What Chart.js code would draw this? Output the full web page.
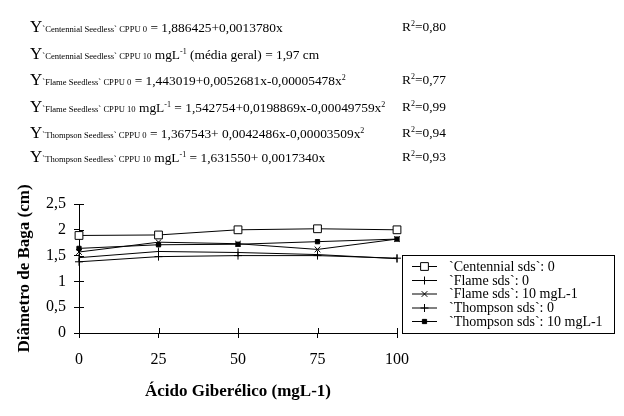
<!DOCTYPE html>
<html>
<head>
<meta charset="utf-8">
<script src="https://cdn.jsdelivr.net/npm/chart.js@4/dist/chart.umd.min.js"></script>
<style>
  body { margin: 0; background: #fff; }
  #wrap { position: relative; width: 624px; height: 416px; font-family: "Liberation Serif", "Times New Roman", serif; color: #000; }
  #chart { position: absolute; left: 0; top: 0; }
  .eq { position: absolute; left: 30px; font-size: 13.4px; line-height: 16px; white-space: nowrap; }
  .eq .Y { font-size: 17px; }
  .eq .s { font-size: 8.6px; }
  .eq sup, .r2 sup { font-size: 8px; vertical-align: 5px; line-height: 0; }
  .r2 { position: absolute; left: 402px; font-size: 13.4px; line-height: 16px; white-space: nowrap; }
</style>
</head>
<body>
<div id="wrap">
  <canvas id="chart" width="624" height="416"></canvas>

  <div class="eq" style="top:19px"><span class="Y">Y</span><span class="s">`Centennial Seedless` CPPU 0</span> = 1,886425+0,0013780x</div>
  <div class="r2" style="top:19px">R<sup>2</sup>=0,80</div>

  <div class="eq" style="top:46px"><span class="Y">Y</span><span class="s">`Centennial Seedless` CPPU 10</span> mgL<sup>-1</sup> (média geral) = 1,97 cm</div>

  <div class="eq" style="top:72px"><span class="Y">Y</span><span class="s">`Flame Seedless` CPPU 0</span> = 1,443019+0,0052681x-0,00005478x<sup>2</sup></div>
  <div class="r2" style="top:72px">R<sup>2</sup>=0,77</div>

  <div class="eq" style="top:99px"><span class="Y">Y</span><span class="s">`Flame Seedless` CPPU 10</span> mgL<sup>-1</sup> = 1,542754+0,0198869x-0,00049759x<sup>2</sup></div>
  <div class="r2" style="top:99px">R<sup>2</sup>=0,99</div>

  <div class="eq" style="top:125px"><span class="Y">Y</span><span class="s">`Thompson Seedless` CPPU 0</span> = 1,367543+ 0,0042486x-0,00003509x<sup>2</sup></div>
  <div class="r2" style="top:125px">R<sup>2</sup>=0,94</div>

  <div class="eq" style="top:149px"><span class="Y">Y</span><span class="s">`Thompson Seedless` CPPU 10</span> mgL<sup>-1</sup> = 1,631550+ 0,0017340x</div>
  <div class="r2" style="top:149px">R<sup>2</sup>=0,93</div>
</div>

<script>
  const doses = [0, 25, 50, 75, 100];
  const centennial0 = [1.89, 1.90, 2.00, 2.02, 2.00];
  const flame0 = [1.46, 1.58, 1.56, 1.52, 1.44];
  const flame10 = [1.57, 1.76, 1.73, 1.62, 1.82];
  const thompson0 = [1.38, 1.48, 1.50, 1.50, 1.45];
  const thompson10 = [1.64, 1.71, 1.72, 1.77, 1.82];

  const seriesLabels = [
    "`Centennial sds`: 0",
    "`Flame sds`: 0",
    "`Flame sds`: 10 mgL-1",
    "`Thompson sds`: 0",
    "`Thompson sds`: 10 mgL-1",
  ];
  const xTitle = "Ácido Giberélico (mgL-1)";
  const yTitle = "Diâmetro de Baga (cm)";

  const FONT = "'Liberation Serif', 'Times New Roman', serif";

  function pts(values) {
    return doses.map((d, i) => ({ x: d, y: values[i] }));
  }

  function series(label, values, style) {
    return Object.assign(
      {
        label,
        data: pts(values),
        borderColor: "#000",
        borderWidth: 1,
        pointBorderColor: "#000",
        pointBorderWidth: 1,
        tension: 0,
        clip: false,
      },
      style,
    );
  }

  // ticks in the reference cross the axis line
  const crossTicks = {
    id: "crossTicks",
    beforeDatasetsDraw(chart) {
      const { ctx, chartArea, scales } = chart;
      ctx.save();
      ctx.strokeStyle = "#000";
      ctx.lineWidth = 1;
      ctx.beginPath();
      scales.y.ticks.forEach((t) => {
        const py = Math.round(scales.y.getPixelForValue(t.value)) + 0.5;
        ctx.moveTo(chartArea.left, py);
        ctx.lineTo(chartArea.left + 5, py);
      });
      scales.x.ticks.forEach((t) => {
        const px = Math.round(scales.x.getPixelForValue(t.value)) + 0.5;
        ctx.moveTo(px, chartArea.bottom);
        ctx.lineTo(px, chartArea.bottom - 5);
      });
      ctx.stroke();
      ctx.restore();
    },
  };

  // boxed legend to the right of the plot, like the spreadsheet one
  const boxLegend = {
    id: "boxLegend",
    afterDraw(chart) {
      const ctx = chart.ctx;
      const rowY = [266, 280, 293.5, 307.5, 321];
      ctx.save();
      ctx.strokeStyle = "#000";
      ctx.lineWidth = 1;
      ctx.strokeRect(402.5, 255.5, 212, 78);
      ctx.font = "14px " + FONT;
      ctx.textBaseline = "middle";
      ctx.fillStyle = "#000";
      chart.data.datasets.forEach((ds, i) => {
        const y = rowY[i];
        ctx.beginPath();
        ctx.moveTo(412, y + 0.5);
        ctx.lineTo(437, y + 0.5);
        ctx.stroke();
        ctx.fillStyle = ds.pointBackgroundColor;
        Chart.helpers.drawPoint(
          ctx,
          { pointStyle: ds.pointStyle, radius: ds.pointRadius, rotation: ds.pointRotation || 0, borderWidth: 1 },
          424.5,
          y + 0.5,
        );
        ctx.fillStyle = "#000";
        ctx.fillText(ds.label, 449, y + 1);
      });
      ctx.restore();
    },
  };

  new Chart(document.getElementById("chart"), {
    type: "line",
    data: {
      datasets: [
        series(seriesLabels[0], centennial0, { pointStyle: "rect", pointRadius: 5.5, pointBackgroundColor: "#fff" }),
        series(seriesLabels[1], flame0, { pointStyle: "line", pointRotation: 90, pointRadius: 4, pointBackgroundColor: "#000" }),
        series(seriesLabels[2], flame10, { pointStyle: "crossRot", pointRadius: 4, pointBackgroundColor: "#000" }),
        series(seriesLabels[3], thompson0, { pointStyle: "cross", pointRadius: 4, pointBackgroundColor: "#000" }),
        series(seriesLabels[4], thompson10, { pointStyle: "rect", pointRadius: 3, pointBackgroundColor: "#000" }),
      ],
    },
    options: {
      responsive: false,
      animation: false,
      layout: { padding: { left: 0, top: 204, right: 227, bottom: 0 } },
      plugins: { legend: { display: false }, tooltip: { enabled: false } },
      scales: {
        x: {
          type: "linear",
          min: 0,
          max: 100,
          afterFit: (s) => { s.height = 83; },
          grid: { drawOnChartArea: false, tickLength: 5, color: "#000" },
          border: { color: "#000" },
          ticks: { stepSize: 25, padding: 12, color: "#000", font: { family: FONT, size: 16 } },
          title: { display: true, text: xTitle, color: "#000", padding: { bottom: 14 }, font: { family: FONT, size: 17, weight: "bold" } },
        },
        y: {
          min: 0,
          max: 2.5,
          afterFit: (s) => { s.width = 79; },
          grid: { drawOnChartArea: false, tickLength: 5, color: "#000" },
          border: { color: "#000" },
          ticks: {
            stepSize: 0.5,
            padding: 8,
            color: "#000",
            font: { family: FONT, size: 16 },
            callback: (v) => String(v).replace(".", ","),
          },
          title: { display: true, text: yTitle, color: "#000", padding: { top: 14 }, font: { family: FONT, size: 17, weight: "bold" } },
        },
      },
    },
    plugins: [crossTicks, boxLegend],
  });
</script>
</body>
</html>
